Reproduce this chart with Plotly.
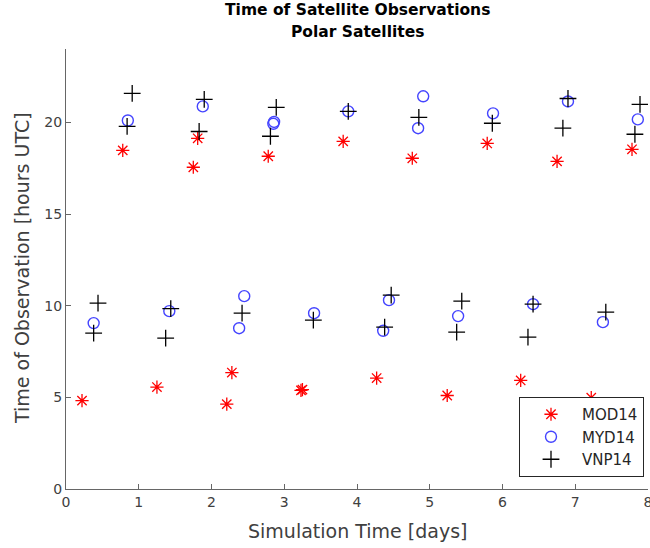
import plotly.graph_objects as go

mod14_x = [0.22, 1.25, 2.21, 2.28, 3.23, 3.25, 4.27, 5.24, 6.25, 7.22,
           0.78, 1.75, 1.81, 2.78, 3.81, 4.76, 5.79, 6.75, 7.78]
mod14_y = [4.82, 5.56, 4.63, 6.35, 5.38, 5.42, 6.05, 5.10, 5.92, 4.98,
           18.47, 17.55, 19.13, 18.15, 18.96, 18.04, 18.85, 17.87, 18.53]

myd14_x = [0.38, 1.42, 2.38, 2.45, 3.41, 4.36, 4.44, 5.39, 6.42, 7.38,
           0.85, 1.88, 2.85, 2.86, 3.88, 4.84, 4.91, 5.87, 6.90, 7.86]
myd14_y = [9.05, 9.70, 8.77, 10.52, 9.59, 8.63, 10.30, 9.43, 10.08, 9.10,
           20.10, 20.87, 19.92, 20.02, 20.60, 19.68, 21.42, 20.49, 21.14, 20.16]

vnp14_x = [0.38, 0.44, 1.37, 1.44, 2.42, 3.40, 4.38, 4.47, 5.37, 5.44, 6.35, 6.42, 7.42,
           0.84, 0.91, 1.83, 1.90, 2.81, 2.89, 3.88, 4.85, 5.86, 6.83, 6.90, 7.82, 7.89]
vnp14_y = [8.50, 10.14, 8.23, 9.84, 9.59, 9.21, 8.83, 10.57, 8.56, 10.25, 8.28, 10.08, 9.65,
           19.78, 21.58, 19.50, 21.25, 19.24, 20.82, 20.60, 20.27, 19.95, 19.68, 21.30, 19.35, 20.98]

x_ticks = [0, 1, 2, 3, 4, 5, 6, 7, 8]
y_ticks = [0, 5, 10, 15, 20]

FONT = "DejaVu Sans"
W, H = 650, 548
L, R, T, B = 66, 2, 49, 59
PW, PH = W - L - R, H - T - B


def px_x(px):
    return (px - L) / PW


def px_y(py):
    return 1 - (py - T) / PH


fig = go.Figure()
fig.add_trace(go.Scatter(x=mod14_x, y=mod14_y, mode="markers", name="MOD14",
                         marker=dict(symbol="asterisk-open", size=11, color="red",
                                     line=dict(color="red", width=1.3))))
fig.add_trace(go.Scatter(x=myd14_x, y=myd14_y, mode="markers", name="MYD14",
                         marker=dict(symbol="circle-open", size=11, color="#4444ff",
                                     line=dict(color="#4444ff", width=1.4))))
fig.add_trace(go.Scatter(x=vnp14_x, y=vnp14_y, mode="markers", name="VNP14",
                         marker=dict(symbol="cross-thin-open", size=12, color="black",
                                     line=dict(color="black", width=1.3))))

axis_common = dict(showgrid=False, zeroline=False, showline=True, linecolor="#666666",
                   linewidth=1.3, ticks="inside", ticklen=5, tickcolor="#666666",
                   tickfont=dict(family=FONT, size=14, color="#404040"),
                   mirror=False, automargin=False, ticklabeloverflow="allow")

fig.update_layout(
    width=W, height=H,
    margin=dict(l=L, r=R, t=T, b=B),
    paper_bgcolor="white", plot_bgcolor="white",
    xaxis=dict(range=[0, 8], tickvals=x_ticks, **axis_common),
    yaxis=dict(range=[0, 24], tickvals=y_ticks, **axis_common),
    legend=dict(x=px_x(644), xanchor="right", y=px_y(477), yanchor="bottom",
                bordercolor="#262626", borderwidth=1, bgcolor="white",
                font=dict(family=FONT, size=15, color="#262626"),
                tracegroupgap=0, itemwidth=52),
    showlegend=True,
    annotations=[
        dict(text="<b>Time of Satellite Observations</b>", x=px_x(357), y=px_y(10),
             xref="paper", yref="paper", xanchor="center", yanchor="middle",
             showarrow=False, font=dict(family=FONT, size=15.5, color="black")),
        dict(text="<b>Polar Satellites</b>", x=px_x(357), y=px_y(32),
             xref="paper", yref="paper", xanchor="center", yanchor="middle",
             showarrow=False, font=dict(family=FONT, size=15.5, color="black")),
        dict(text="Simulation Time [days]", x=px_x(357), y=px_y(531),
             xref="paper", yref="paper", xanchor="center", yanchor="middle",
             showarrow=False, font=dict(family=FONT, size=19, color="#404040")),
        dict(text="Time of Observation [hours UTC]", x=px_x(22), y=px_y(268),
             xref="paper", yref="paper", xanchor="center", yanchor="middle", textangle=-90,
             showarrow=False, font=dict(family=FONT, size=19, color="#404040")),
    ],
)

fig.write_html("out.html", config={"displayModeBar": False},
               post_script="document.body.style.margin='0';document.body.style.overflow='hidden';")
